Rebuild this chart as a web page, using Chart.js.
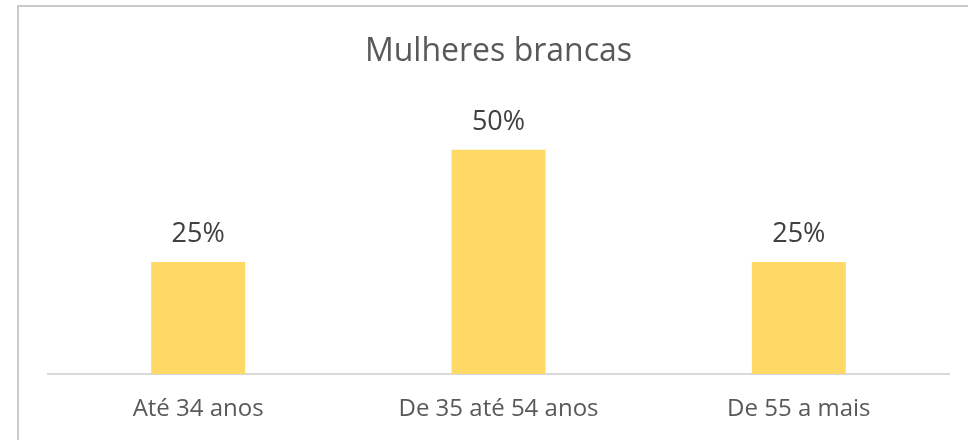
<!DOCTYPE html>
<html>
<head>
<meta charset="utf-8">
<script src="https://cdn.jsdelivr.net/npm/chart.js@4.4.0/dist/chart.umd.min.js"></script>
<style>
  html, body { margin: 0; padding: 0; background: #fff; }
  #wrap { position: relative; width: 968px; height: 440px; overflow: hidden; }
  #frame { position: absolute; left: 17px; top: 5px; width: 1000px; height: 500px;
           border-top: 2px solid #c9c9c9; border-left: 2px solid #c9c9c9; }
  canvas { position: absolute; left: 0; top: 0; }
</style>
</head>
<body>
<div id="wrap">
  <div id="frame"></div>
  <canvas id="chart" width="968" height="440"></canvas>
</div>
<script>
// chart data
const categories = ['Até 34 anos', 'De 35 até 54 anos', 'De 55 a mais'];
const shares = [0.25, 0.50, 0.25];
const chartTitle = 'Mulheres brancas';

const textColor = '#595959';
const fontFamily = '"Open Sans", "Liberation Sans", sans-serif';

// draws the % label above each bar
const barLabels = {
    id: 'barLabels',
    afterDatasetsDraw(chart) {
        const ctx = chart.ctx;
        const meta = chart.getDatasetMeta(0);
        ctx.save();
        ctx.font = '27px ' + fontFamily;
        ctx.fillStyle = '#404040';
        ctx.textAlign = 'center';
        ctx.textBaseline = 'middle';
        meta.data.forEach((bar, i) => {
            ctx.fillText(Math.round(shares[i] * 100) + '%', bar.x, bar.y - 28);
        });
        ctx.restore();
    }
};

new Chart(document.getElementById('chart').getContext('2d'), {
    type: 'bar',
    data: {
        labels: categories,
        datasets: [{
            data: shares,
            backgroundColor: '#FFD966',
            borderWidth: 0,
            categoryPercentage: 1,
            barPercentage: 0.313
        }]
    },
    options: {
        responsive: false,
        animation: false,
        layout: { padding: { left: 48, right: 19, top: 0, bottom: 0 } },
        plugins: {
            legend: { display: false },
            tooltip: { enabled: false },
            title: {
                display: true,
                text: chartTitle,
                color: textColor,
                font: { family: fontFamily, size: 32, weight: 'normal', lineHeight: 1.2 },
                padding: { top: 33, bottom: 33.6 }
            }
        },
        scales: {
            x: {
                grid: { display: false },
                border: { color: '#d9d9d9', width: 2 },
                ticks: { color: textColor, font: { family: fontFamily, size: 24 }, padding: 13 },
                afterFit: s => { s.height = 66; }
            },
            y: { display: false, min: 0, max: 0.6 }
        }
    },
    plugins: [barLabels]
});
</script>
</body>
</html>
